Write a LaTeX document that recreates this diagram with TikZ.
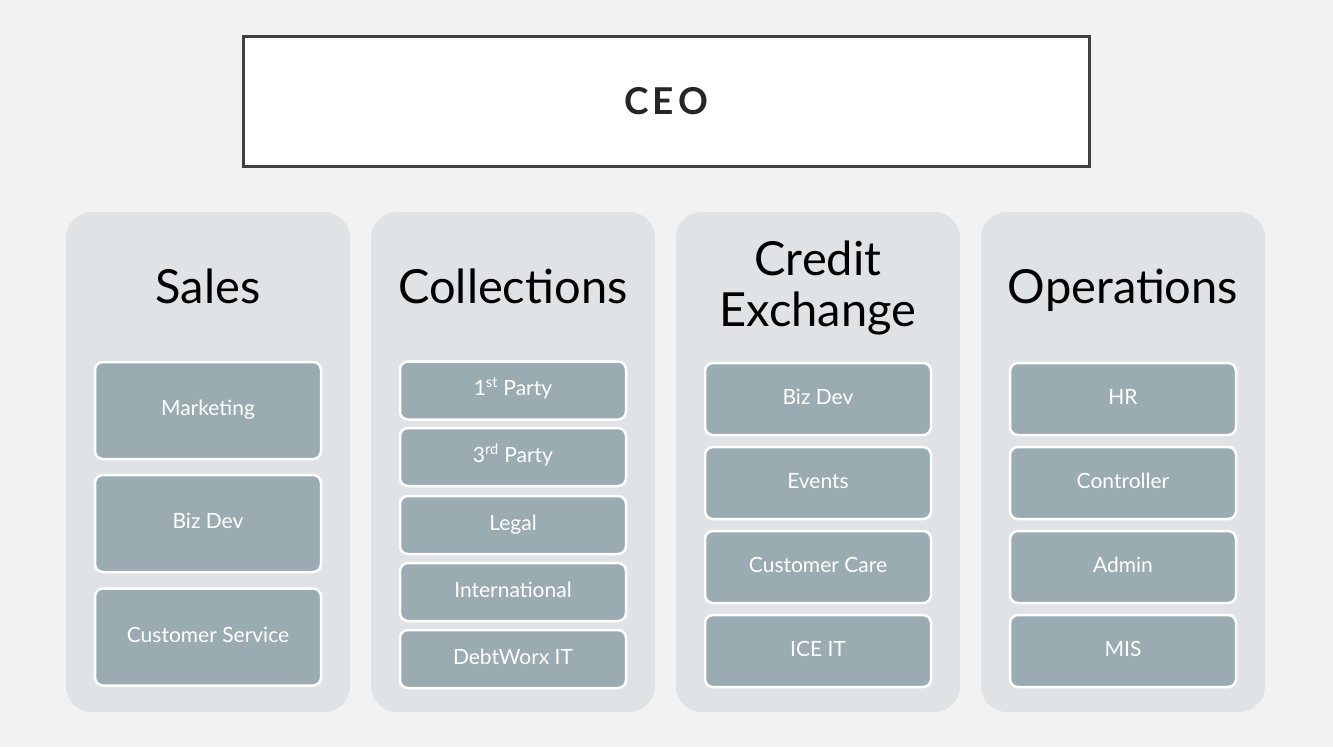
\documentclass[tikz,border=0pt]{standalone}
\usepackage{fontspec}
\setmainfont{Lato}
\definecolor{pagebg}{HTML}{F2F2F2}
\definecolor{deptbg}{HTML}{DFE3E6}
\definecolor{unitbg}{HTML}{9AACB2}
\definecolor{ceoline}{HTML}{404040}
\tikzset{
  ceobox/.style={draw=ceoline, line width=3pt, fill=white, minimum width=846pt, minimum height=130pt, inner sep=0pt,
    font=\fontsize{37}{42}\selectfont\bfseries\addfontfeatures{LetterSpace=12}, text=black!85},
  dept/.style={fill=deptbg, rounded corners=26pt, minimum width=284pt, minimum height=500pt, inner sep=0pt},
  depttitle/.style={font=\fontsize{47}{51}\selectfont, text=black, align=center, inner sep=0pt},
  unit/.style={draw=white, line width=2.5pt, fill=unitbg, rounded corners=8pt, minimum width=226pt, inner sep=0pt,
    text=white, font=\fontsize{21}{24}\selectfont, text height=14.5pt, text depth=4.5pt},
  tallunit/.style={unit, minimum height=97pt},
  midunit/.style={unit, minimum height=72pt},
  lowunit/.style={unit, minimum height=58pt},
}
\begin{document}
\begin{tikzpicture}[x=1pt, y=-1pt]
        % background
        \fill[pagebg] (0,0) rectangle (1333,747);

        % nodes
        \node(ceo) [ceobox] at (666, 101) {CEO};

        \node(sales) [dept] at (208, 462) {};
        \node(coll) [dept] at (513, 462) {};
        \node(credit) [dept] at (818, 462) {};
        \node(ops) [dept] at (1123, 462) {};

        \node(salest) [depttitle, anchor=base] at (208, 303) {Sales};
        \node(collt) [depttitle, anchor=base] at (513, 303) {Collections};
        \node(creditt) [depttitle] at (818, 288) {Credit\\Exchange};
        \node(opst) [depttitle, anchor=base] at (1123, 303) {Operations};

        % sales units
        \node(mkt) [tallunit] at (208, 410.5) {Marketing};
        \node(bizdev) [tallunit] at (208, 523.5) {Biz Dev};
        \node(custserv) [tallunit] at (208, 637) {Customer Service};

        % collections units
        \node(first) [lowunit] at (513, 390.5) {1\textsuperscript{st} Party};
        \node(third) [lowunit] at (513, 457) {3\textsuperscript{rd} Party};
        \node(legal) [lowunit] at (513, 525) {Legal};
        \node(intl) [lowunit] at (513, 592) {International};
        \node(dwit) [lowunit] at (513, 659) {DebtWorx IT};

        % credit exchange units
        \node(cebiz) [midunit] at (818, 399) {Biz Dev};
        \node(events) [midunit] at (818, 483) {Events};
        \node(care) [midunit] at (818, 567) {Customer Care};
        \node(iceit) [midunit] at (818, 651) {ICE IT};

        % operations units
        \node(hr) [midunit] at (1123, 399) {HR};
        \node(ctrl) [midunit] at (1123, 483) {Controller};
        \node(admin) [midunit] at (1123, 567) {Admin};
        \node(mis) [midunit] at (1123, 651) {MIS};

    \end{tikzpicture}
\end{document}
